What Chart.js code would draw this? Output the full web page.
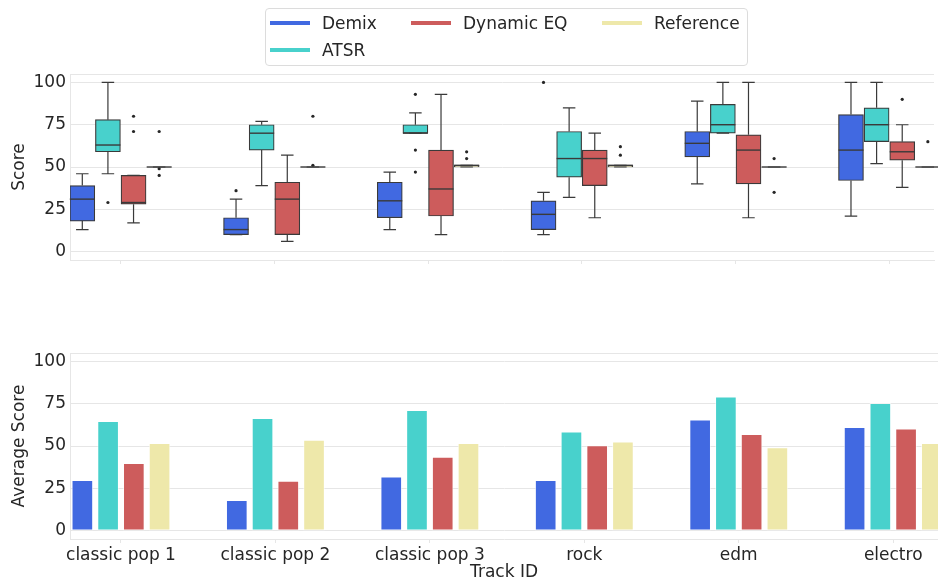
<!DOCTYPE html>
<html><head><meta charset="utf-8">
<script src="https://cdn.jsdelivr.net/npm/chart.js@4.4.1/dist/chart.umd.min.js"></script>
<style>
html,body{margin:0;padding:0;background:#fff;width:938px;height:583px;overflow:hidden;font-family:"DejaVu Sans",sans-serif;}
#w1{position:absolute;left:0;top:0;width:938px;height:300px;}
#w2{position:absolute;left:0;top:300px;width:938px;height:283px;}
#legend{position:absolute;left:265px;top:8px;width:481px;height:56px;border:1px solid #dcdcdc;border-radius:4px;background:rgba(255,255,255,0.85);z-index:2;}
.li{position:absolute;font-size:17px;color:#262626;line-height:20px;white-space:nowrap;}
.sw{position:absolute;width:40px;height:4px;}
</style></head>
<body>
<div id="w1"><canvas id="c1" width="938" height="300"></canvas></div>
<div id="w2"><canvas id="c2" width="938" height="283"></canvas></div>
<div id="legend"></div>
<script>
// ---------- data ----------
const categories = ['classic pop 1','classic pop 2','classic pop 3','rock','edm','electro'];
const methods = ['Demix','ATSR','Dynamic EQ','Reference'];
const colors = ['#4169E1','#48D1CC','#CD5C5C','#EEE8AA'];
const yTicks = [0,25,50,75,100];

// box statistics per track: [min, q1, median, q3, max]
const demixBox = [[13,18,31,39,46],[10,10,13,20,31],[13,20,30,41,47],[10,13,22,30,35],[40,56,64,71,89],[21,42,60,81,100]];
const atsrBox = [[46,59,63,78,100],[39,60,70,75,77],[70,70,70,75,82],[32,44,55,71,85],[70,70,75,87,100],[52,65,75,85,100]];
const dynEqBox = [[17,28,29,45,45],[6,10,31,41,57],[10,21,37,60,93],[20,39,55,60,70],[20,40,60,69,100],[38,54,59,65,75]];
const referenceBox = [[50,50,50,50,50],[50,50,50,50,50],[50,50,51,51,51],[50,50,51,51,51],[50,50,50,50,50],[50,50,50,50,50]];

// outliers per track
const demixOutliers = [[],[36],[],[100],[],[]];
const atsrOutliers = [[29],[],[93,60,47],[],[],[]];
const dynEqOutliers = [[80,71],[],[],[],[],[90]];
const referenceOutliers = [[71,49,45],[80,51],[59,55],[62,57],[55,35],[65]];

// average scores per track
const demixAvg = [29.7,17.9,31.7,29.7,65.5,61.0];
const atsrAvg = [64.6,66.3,71.1,58.4,79.1,75.2];
const dynEqAvg = [39.8,29.3,43.5,50.2,56.9,60.2];
const referenceAvg = [51.6,53.5,51.6,52.4,49.0,51.6];

const boxes = [demixBox, atsrBox, dynEqBox, referenceBox];
const outliers = [demixOutliers, atsrOutliers, dynEqOutliers, referenceOutliers];
const avgs = [demixAvg, atsrAvg, dynEqAvg, referenceAvg];

// ---------- legend ----------
const legendPos = [[0,0],[0,1],[1,0],[2,0]]; // [column,row] for each method
const colLeft = [4,145,336];
const leg = document.getElementById('legend');
methods.forEach((m,h)=>{
  const [c,r] = legendPos[h];
  const sw = document.createElement('div'); sw.className='sw';
  sw.style.left = colLeft[c]+'px'; sw.style.top = (12+r*27)+'px'; sw.style.background = colors[h];
  const t = document.createElement('div'); t.className='li';
  t.style.left = (colLeft[c]+52)+'px'; t.style.top = (4+r*27)+'px'; t.textContent = m;
  leg.appendChild(sw); leg.appendChild(t);
});

// ---------- shared styling ----------
const TXT = '#262626', GRID = '#e6e6e6', EDGE = '#3a3a3a';
const FONT = {family:'DejaVu Sans', size:17};
const hueOffset = h => (h - 1.5) / 6;
const BOX_PX = 25, BAR_PX = 21;

function xScale(showLabels, height){
  return {
    type:'linear', min:-0.33, max:5.29, offset:false,
    afterBuildTicks: s => { s.ticks = categories.map((c,i)=>({value:i})); },
    ticks:{display:showLabels, autoSkip:false, maxRotation:0, padding:2, color:TXT, font:FONT,
           callback:(v)=>categories[v]},
    grid:{drawOnChartArea:false, drawTicks:true, tickLength:4, color:GRID, offset:false},
    border:{color:GRID},
    title: showLabels ? {display:true, text:'Track ID', color:TXT, font:FONT, padding:{top:0,bottom:0}} : {display:false},
    afterFit: s => { s.height = height; }
  };
}
function yScale(title){
  return {
    type:'linear', min:-5, max:105,
    afterBuildTicks: s => { s.ticks = yTicks.map(v=>({value:v})); },
    ticks:{padding:4, color:TXT, font:FONT},
    grid:{color:GRID, drawTicks:false},
    border:{color:GRID},
    title:{display:true, text:title, color:TXT, font:FONT, padding:{top:9,bottom:0}},
    afterFit: s => { s.width = 70; }
  };
}
const topSpine = {
  id:'topSpine',
  beforeDatasetsDraw(chart){
    const {ctx, chartArea:a} = chart;
    ctx.save(); ctx.strokeStyle = GRID; ctx.lineWidth = 1;
    ctx.beginPath(); ctx.moveTo(a.left, a.top+0.5); ctx.lineTo(a.right, a.top+0.5); ctx.stroke();
    ctx.restore();
  }
};
const whiskers = {
  id:'whiskers',
  afterDatasetsDraw(chart){
    const {ctx, scales:{x,y}} = chart;
    ctx.save(); ctx.strokeStyle = EDGE; ctx.lineWidth = 1.2;
    boxes.forEach((b,h)=>{
      b.forEach((s,i)=>{
        const cx = x.getPixelForValue(i + hueOffset(h));
        const [mn,q1,md,q3,mx] = s.map(v=>y.getPixelForValue(v));
        ctx.beginPath();
        ctx.moveTo(cx,q3); ctx.lineTo(cx,mx);
        ctx.moveTo(cx,q1); ctx.lineTo(cx,mn);
        ctx.moveTo(cx-BOX_PX/4,mx); ctx.lineTo(cx+BOX_PX/4,mx);
        ctx.moveTo(cx-BOX_PX/4,mn); ctx.lineTo(cx+BOX_PX/4,mn);
        ctx.stroke();
        ctx.beginPath(); ctx.lineWidth = 1.4;
        ctx.moveTo(cx-BOX_PX/2,md); ctx.lineTo(cx+BOX_PX/2,md); ctx.stroke();
        ctx.lineWidth = 1.2;
      });
    });
    ctx.restore();
  }
};

// ---------- top: box plot ----------
const boxDatasets = methods.map((m,h)=>({
  type:'bar', label:m,
  data: categories.map((c,i)=>({x:i+hueOffset(h), y:[boxes[h][i][1], boxes[h][i][3]]})),
  backgroundColor: colors[h], borderColor: EDGE, borderWidth:1.2, borderSkipped:false,
  barThickness: BOX_PX, grouped:false, order:2
}));
const outlierPoints = [];
outliers.forEach((o,h)=>o.forEach((vals,i)=>vals.forEach(v=>outlierPoints.push({x:i+hueOffset(h), y:v}))));
boxDatasets.push({type:'scatter', label:'outliers', data:outlierPoints,
  pointRadius:1.6, pointBackgroundColor:TXT, pointBorderWidth:0, order:1});

new Chart(document.getElementById('c1'), {
  data:{datasets:boxDatasets},
  options:{
    responsive:false, animation:false,
    layout:{padding:{top:74,left:0,right:0,bottom:0}},
    plugins:{legend:{display:false}, tooltip:{enabled:false}},
    scales:{x:xScale(false, 40), y:yScale('Score')}
  },
  plugins:[topSpine, whiskers]
});

// ---------- bottom: average bars ----------
const barDatasets = methods.map((m,h)=>({
  type:'bar', label:m,
  data: categories.map((c,i)=>({x:i+hueOffset(h), y:avgs[h][i]})),
  backgroundColor: colors[h], borderColor:'rgba(255,255,255,0.55)', borderWidth:1, borderSkipped:false,
  barThickness: BAR_PX, grouped:false
}));
new Chart(document.getElementById('c2'), {
  data:{datasets:barDatasets},
  options:{
    responsive:false, animation:false,
    layout:{padding:{top:53,left:0,right:0,bottom:0}},
    plugins:{legend:{display:false}, tooltip:{enabled:false}},
    scales:{x:xScale(true, 44), y:yScale('Average Score')}
  },
  plugins:[topSpine]
});
</script>
</body></html>
